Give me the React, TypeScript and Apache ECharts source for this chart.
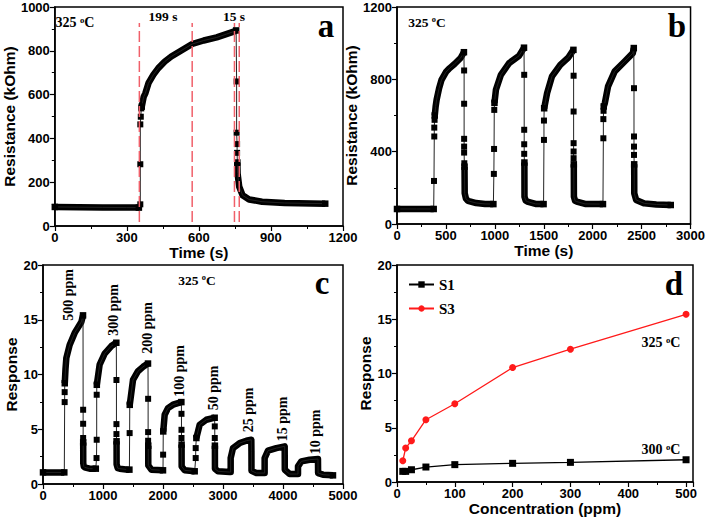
import React, { useEffect, useRef } from "react";
import * as echarts from "echarts";

// [time, value, isMarker(1) / dense(0)]
type P = [number, number, number];

const aTrace: P[] = [
  [0, 87, 0], [100, 86, 0], [200, 85, 0], [300, 84, 0], [350, 84, 0],
  [356, 99, 1], [356, 282, 1], [356, 464, 1], [358, 499, 1], [360, 537, 1],
  [362, 545, 0], [370, 590, 0], [377, 606, 0], [390, 652, 0], [410, 690, 0], [431, 721, 0],
  [458, 751, 0], [485, 774, 0], [525, 800, 0], [572, 831, 0], [620, 847, 0], [674, 861, 0],
  [714, 876, 0], [748, 889, 0], [755, 893, 0],
  [757, 660, 1], [757, 426, 1], [759, 374, 1], [759, 334, 1],
  [760, 290, 0], [761, 240, 0], [768, 179, 0], [782, 140, 0], [809, 121, 0], [863, 111, 0],
  [957, 105, 0], [1126, 102, 0],
];

const bTrace: P[] = [
  [0, 83, 0], [200, 83, 0], [375, 83, 0],
  [378, 238, 1], [381, 484, 1], [381, 533, 1], [384, 576, 1],
  [386, 600, 0], [395, 650, 0], [405, 687, 0], [430, 750, 0], [455, 797, 0], [500, 840, 0],
  [539, 862, 0], [588, 885, 0], [650, 918, 0], [684, 950, 0],
  [686, 849, 1], [686, 665, 1], [686, 471, 1], [686, 428, 1], [686, 395, 1], [688, 336, 1],
  [690, 317, 0], [692, 170, 0], [705, 140, 0], [725, 128, 0], [809, 116, 0], [900, 111, 0], [985, 110, 0],
  [990, 277, 1], [992, 415, 1], [994, 631, 1],
  [996, 670, 0], [1011, 742, 0], [1062, 825, 0], [1146, 890, 0], [1247, 930, 0], [1298, 975, 0],
  [1300, 825, 1], [1300, 521, 1], [1300, 441, 1], [1300, 388, 1],
  [1302, 340, 0], [1303, 151, 0], [1315, 130, 0], [1332, 124, 0], [1416, 111, 0], [1498, 110, 0],
  [1502, 465, 1], [1502, 572, 1],
  [1504, 640, 0], [1534, 724, 0], [1584, 816, 0], [1669, 880, 0], [1753, 922, 0], [1803, 963, 0],
  [1805, 820, 1], [1805, 622, 1], [1805, 447, 1], [1805, 401, 1], [1805, 364, 1],
  [1807, 330, 0], [1808, 151, 0], [1820, 128, 0], [1837, 124, 0], [1922, 111, 0], [2105, 110, 0],
  [2109, 474, 1], [2109, 580, 1], [2111, 626, 1],
  [2113, 650, 0], [2124, 668, 0], [2157, 761, 0], [2225, 844, 0], [2326, 899, 0], [2410, 945, 0], [2420, 973, 0],
  [2422, 751, 1], [2422, 484, 1], [2422, 428, 1], [2422, 382, 1],
  [2424, 330, 0], [2425, 170, 0], [2444, 133, 0], [2528, 114, 0], [2650, 108, 0], [2798, 105, 0],
];

const cTrace: P[] = [
  [0, 1.06, 0], [200, 1.06, 0], [355, 1.06, 0],
  [361, 7.48, 1], [361, 8.39, 1],
  [363, 9.2, 0], [375, 10.5, 0], [389, 11.5, 0], [444, 12.7, 0], [528, 13.8, 0], [639, 14.8, 0], [667, 15.4, 0],
  [669, 6.78, 1], [669, 5.5, 1], [669, 4.2, 1],
  [670, 3.8, 0], [671, 1.9, 0], [680, 1.6, 0], [694, 1.52, 0], [778, 1.4, 0], [880, 1.4, 0],
  [892, 2.37, 1], [895, 4.04, 1], [895, 8.15, 1],
  [897, 9.06, 0], [944, 10.9, 0], [1028, 11.9, 0], [1139, 12.6, 0], [1222, 12.9, 0],
  [1224, 9.5, 1], [1224, 5.47, 1], [1224, 4.56, 1],
  [1226, 3.9, 0], [1227, 1.8, 0], [1245, 1.45, 0], [1278, 1.4, 0], [1417, 1.31, 0], [1440, 1.31, 0],
  [1444, 4.65, 1],
  [1446, 7.23, 0], [1500, 9.5, 0], [1583, 10.3, 0], [1667, 10.7, 0], [1750, 11.0, 0],
  [1752, 7.78, 1], [1752, 4.74, 1], [1752, 3.95, 1],
  [1754, 3.5, 0], [1755, 1.7, 0], [1806, 1.31, 0], [2000, 1.25, 0],
  [2002, 2.68, 1],
  [2004, 4.8, 0], [2028, 6.32, 0], [2083, 6.93, 0], [2167, 7.24, 0], [2306, 7.48, 0],
  [2308, 6.41, 1], [2308, 4.95, 1], [2308, 4.2, 1],
  [2310, 3.6, 0], [2311, 1.6, 0], [2361, 1.25, 0], [2528, 1.16, 0],
  [2545, 2.37, 1], [2545, 3.28, 1],
  [2556, 4.2, 0], [2611, 5.41, 0], [2722, 5.87, 0], [2833, 6.02, 0], [2861, 6.05, 0],
  [2863, 5.26, 1], [2863, 4.2, 1],
  [2865, 3.5, 0], [2866, 1.4, 0], [2917, 1.16, 0], [3111, 1.09, 0],
  [3128, 1.09, 0], [3128, 2.37, 0], [3167, 3.28, 0], [3278, 3.74, 0], [3389, 3.95, 0], [3472, 4.04, 0],
  [3474, 3.0, 0], [3475, 1.2, 0], [3556, 1.0, 0], [3667, 1.0, 0],
  [3694, 1.0, 0], [3694, 2.37, 0], [3750, 3.04, 0], [3889, 3.28, 0], [4028, 3.44, 0],
  [4030, 1.3, 0], [4111, 0.91, 0], [4222, 0.91, 0],
  [4250, 0.91, 0], [4250, 1.61, 0], [4306, 2.07, 0], [4444, 2.22, 0], [4583, 2.28, 0],
  [4585, 1.0, 0], [4667, 0.85, 0], [4833, 0.79, 0],
];

const dConc = [10, 15, 25, 50, 100, 200, 300, 500];
const dS1 = [0.98, 0.98, 1.13, 1.38, 1.6, 1.72, 1.81, 2.05];
const dS3 = [1.96, 3.13, 3.8, 5.74, 7.21, 10.55, 12.24, 15.46];

const aDashTimes = [352, 572, 748, 768];
const aDashRange = [18, 927];

const ppmLabels = ["500 ppm", "300 ppm", "200 ppm", "100 ppm", "50 ppm", "25 ppm", "15 ppm", "10 ppm"];

const SANS = '"Liberation Sans", Arial, sans-serif';
const SERIF = '"Liberation Serif", "Times New Roman", serif';

function traceSeries(trace: P[], gi: number): any[] {
  const thin = {
    type: "line",
    xAxisIndex: gi,
    yAxisIndex: gi,
    data: trace.map((p, i) => {
      const prev = trace[i - 1];
      const next = trace[i + 1];
      const runEnd = p[2] === 0 && ((!prev || prev[2] === 1) || (!next || next[2] === 1));
      return { value: [p[0], p[1]], symbol: p[2] || runEnd ? "rect" : "none", symbolSize: p[2] ? 6 : 6.5 };
    }),
    showSymbol: true,
    showAllSymbol: true,
    lineStyle: { color: "#222", width: 1 },
    itemStyle: { color: "#000" },
    z: 5,
  };
  const band: any[] = [];
  trace.forEach((p) => {
    if (p[2] === 0) band.push([p[0], p[1]]);
    else if (band.length && band[band.length - 1][1] !== "-") band.push([p[0], "-"]);
  });
  const thick = {
    type: "line",
    xAxisIndex: gi,
    yAxisIndex: gi,
    data: band,
    showSymbol: false,
    symbol: "none",
    connectNulls: false,
    lineStyle: { color: "#000", width: 6.5, cap: "butt", join: "round" },
    z: 4,
  };
  return [thin, thick];
}

function axis(gi: number, min: number, max: number, interval: number, name: string, nameGap: number) {
  return {
    type: "value",
    gridIndex: gi,
    min,
    max,
    interval,
    name,
    nameLocation: "middle",
    nameGap,
    nameTextStyle: { fontFamily: SANS, fontWeight: "bold", fontSize: 15.5, color: "#000" },
    axisLine: { show: true, lineStyle: { color: "#000", width: 1.5 } },
    axisTick: { show: true, length: 5, lineStyle: { color: "#000", width: 1.2 } },
    minorTick: { show: true, splitNumber: 2, length: 3, lineStyle: { color: "#000", width: 1 } },
    splitLine: { show: false },
    axisLabel: {
      margin: 5,
      fontFamily: SANS,
      fontWeight: "bold",
      fontSize: 13,
      color: "#000",
      formatter: (v: number) => (v % interval === 0 ? String(v) : ""),
    },
  };
}

function degText(x: number, y: number, num: string, size: number) {
  return {
    type: "text",
    x,
    y,
    style: {
      text: `{n|${num} }{s|o}{n|C}`,
      rich: {
        n: { fontFamily: SERIF, fontWeight: "bold", fontSize: size, fill: "#000", verticalAlign: "bottom" },
        s: { fontFamily: SERIF, fontWeight: "bold", fontSize: size * 0.62, fill: "#000", verticalAlign: "top" },
      },
      align: "center",
      verticalAlign: "middle",
      textAlign: "center",
      textVerticalAlign: "middle",
    },
    z: 10,
  };
}

function plainText(x: number, y: number, text: string, font: string, rotation = 0) {
  return {
    type: "text",
    x,
    y,
    rotation,
    style: {
      text,
      font,
      fill: "#000",
      align: "center",
      verticalAlign: "middle",
      textAlign: "center",
      textVerticalAlign: "middle",
    },
    z: 10,
  };
}

export default function App() {
  const ref = useRef<HTMLDivElement>(null);
  useEffect(() => {
    if (!ref.current) return;
    const chart = echarts.init(ref.current, null, { renderer: "svg" });

    const dashData: any[] = [];
    aDashTimes.forEach((t) => {
      dashData.push([t, aDashRange[0]], [t, aDashRange[1]], [t, "-"]);
    });

    const ppmPos = [
      [68, 295], [113, 310], [147, 328], [179, 371], [213, 388], [248, 410], [282, 419], [315, 432],
    ];

    const option: any = {
      animation: false,
      backgroundColor: "#fff",
      grid: [
        { left: 47, top: 7, width: 296, height: 219 },
        { left: 397, top: 7, width: 297, height: 217 },
        { left: 43, top: 265, width: 300, height: 219 },
        { left: 397, top: 265, width: 296, height: 217 },
      ].map((g) => ({ ...g, show: true, borderColor: "#000", borderWidth: 1.5, backgroundColor: "transparent" })),
      xAxis: [
        axis(0, 0, 1200, 300, "Time (s)", 14),
        axis(1, 0, 3000, 500, "Time (s)", 15),
        axis(2, 0, 5000, 1000, "", 15),
        axis(3, 0, 512, 100, "Concentration (ppm)", 15),
      ],
      yAxis: [
        axis(0, 0, 1000, 200, "Resistance (kOhm)", 28),
        axis(1, 0, 1200, 400, "Resistance (kOhm)", 27),
        axis(2, 0, 20, 5, "Response", 17),
        axis(3, 0, 20, 5, "Response", 20),
      ],
      legend: {
        data: ["S1", "S3"],
        orient: "vertical",
        left: 403,
        top: 272,
        itemWidth: 25,
        itemHeight: 8,
        itemGap: 9,
        textStyle: { fontFamily: SERIF, fontWeight: "bold", fontSize: 15, color: "#000" },
      },
      series: [
        {
          type: "line",
          xAxisIndex: 0,
          yAxisIndex: 0,
          data: dashData,
          symbol: "none",
          connectNulls: false,
          lineStyle: { color: "#f0606a", width: 1.5, type: [11, 4] },
          z: 6,
        },
        ...traceSeries(aTrace, 0),
        ...traceSeries(bTrace, 1),
        ...traceSeries(cTrace, 2),
        {
          name: "S1",
          type: "line",
          xAxisIndex: 3,
          yAxisIndex: 3,
          data: dConc.map((c, i) => [c, dS1[i]]),
          symbol: "rect",
          symbolSize: 7,
          itemStyle: { color: "#000" },
          lineStyle: { color: "#000", width: 1.3 },
        },
        {
          name: "S3",
          type: "line",
          xAxisIndex: 3,
          yAxisIndex: 3,
          data: dConc.map((c, i) => [c, dS3[i]]),
          symbol: "circle",
          symbolSize: 7,
          itemStyle: { color: "#ff1a1a" },
          lineStyle: { color: "#ff1a1a", width: 1.3 },
        },
      ],
      graphic: [
        degText(75, 22, "325", 14),
        degText(427, 22, "325", 13.5),
        degText(197, 280, "325", 13.5),
        degText(661, 342, "325", 14),
        degText(661, 449, "300", 14),
        plainText(163, 16, "199 s", `bold 13.5px ${SERIF}`),
        plainText(234, 16, "15 s", `bold 13.5px ${SERIF}`),
        plainText(326, 26, "a", `bold 33px ${SERIF}`),
        plainText(677, 26, "b", `bold 33px ${SERIF}`),
        plainText(322, 283, "c", `bold 33px ${SERIF}`),
        plainText(674, 284, "d", `bold 33px ${SERIF}`),
        ...ppmLabels.map((t, i) => plainText(ppmPos[i][0], ppmPos[i][1], t, `bold 14px ${SERIF}`, Math.PI / 2)),
      ],
    };
    chart.setOption(option);
    return () => chart.dispose();
  }, []);
  return <div ref={ref} style={{ position: "fixed", left: 0, top: 0, width: 708, height: 518 }} />;
}
